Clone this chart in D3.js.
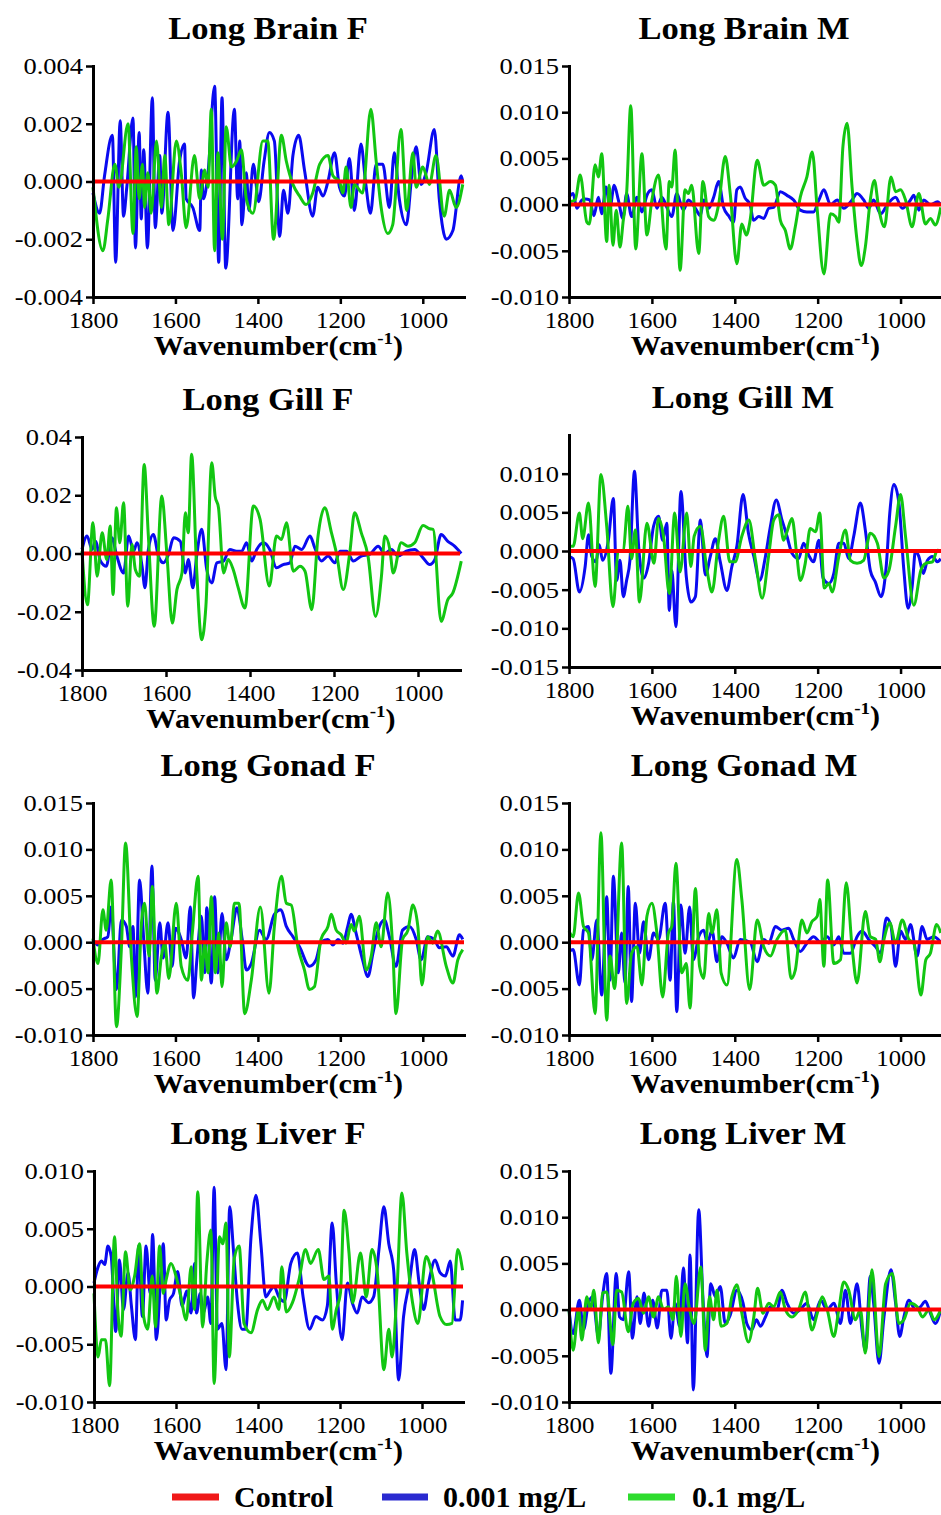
<!DOCTYPE html>
<html>
<head>
<meta charset="utf-8">
<script src="https://cdn.jsdelivr.net/npm/d3@7"></script>
<style>
  body { margin: 0; background: #fff; }
  svg { display: block; }
</style>
</head>
<body>
<svg id="chart" width="941" height="1515"></svg>
<script>
// wavenumber axis, shared by every panel
const xDomain = [1800, 900];
const xTicks = [1800, 1600, 1400, 1200, 1000];
const seriesNames = ['Control', '0.001 mg/L', '0.1 mg/L'];
const controlLine = [[1800, 0], [900, 0]];

const titles = ['Long Brain F', 'Long Brain M', 'Long Gill F', 'Long Gill M',
                'Long Gonad F', 'Long Gonad M', 'Long Liver F', 'Long Liver M'];

const yDomains = [[-0.004, 0.004], [-0.010, 0.015], [-0.04, 0.04], [-0.015, 0.015],
                  [-0.010, 0.015], [-0.010, 0.015], [-0.010, 0.010], [-0.010, 0.015]];

const yTicks = [
  [-0.004, -0.002, 0, 0.002, 0.004],
  [-0.010, -0.005, 0, 0.005, 0.010, 0.015],
  [-0.04, -0.02, 0, 0.02, 0.04],
  [-0.015, -0.010, -0.005, 0, 0.005, 0.010],
  [-0.010, -0.005, 0, 0.005, 0.010, 0.015],
  [-0.010, -0.005, 0, 0.005, 0.010, 0.015],
  [-0.010, -0.005, 0, 0.005, 0.010],
  [-0.010, -0.005, 0, 0.005, 0.010, 0.015]
];
const yDigits = [3, 3, 2, 3, 3, 3, 3, 3];

// [wavenumber, difference]
const brainF_low = [[1800,-0.0004],[1784,-0.0011],[1772,0.0002],[1753,0.0016],[1745,-0.0028],[1734,0.0021],[1726,-0.0012],[1718,-0.0002],[1703,0.0022],[1697,-0.0023],[1688,0.0017],[1683,-0.0013],[1677,0.0011],[1668,-0.0023],[1656,0.0029],[1649,-0.0016],[1638,0.0009],[1633,-0.0011],[1618,0.0024],[1606,-0.0017],[1590,0.0007],[1578,0.0013],[1574,-0.0006],[1558,-0.0009],[1541,-0.0017],[1537,0.0004],[1532,-0.0006],[1521,0.0003],[1505,0.0033],[1495,-0.0028],[1487,0.0029],[1478,-0.0030],[1457,0.0025],[1449,-0.0006],[1444,0.0014],[1439,-0.0015],[1428,0.0003],[1422,-0.0010],[1411,0.0006],[1398,-0.0007],[1385,0.0007],[1372,0.0017],[1360,0.0014],[1347,-0.0019],[1338,-0.0003],[1327,-0.0011],[1315,0.0009],[1301,0.0016],[1287,0.0004],[1267,-0.0012],[1255,-0.0002],[1242,-0.0005],[1230,0.0000],[1214,0.0010],[1202,-0.0002],[1190,-0.0005],[1178,0.0008],[1166,-0.0010],[1150,0.0013],[1139,0.0000],[1127,-0.0011],[1113,0.0006],[1097,0.0006],[1081,-0.0009],[1069,0.0010],[1057,-0.0006],[1040,-0.0015],[1026,0.0003],[1016,0.0012],[1004,-0.0001],[992,0.0003],[972,0.0018],[960,-0.0006],[943,-0.0020],[927,-0.0017],[907,0.0002],[903,0.0000]];
const brainF_high = [[1800,-0.0002],[1776,-0.0024],[1764,-0.0013],[1747,0.0006],[1737,-0.0002],[1715,0.0020],[1703,-0.0018],[1695,0.0012],[1688,-0.0006],[1680,0.0006],[1675,-0.0009],[1667,0.0003],[1659,-0.0011],[1646,0.0014],[1634,-0.0009],[1626,0.0009],[1616,-0.0015],[1598,0.0014],[1586,0.0003],[1574,-0.0016],[1554,0.0009],[1541,-0.0006],[1529,0.0004],[1521,-0.0002],[1513,0.0025],[1505,-0.0024],[1497,0.0010],[1486,-0.0020],[1477,0.0019],[1464,0.0005],[1452,0.0007],[1440,0.0011],[1428,-0.0006],[1412,-0.0011],[1388,0.0014],[1376,0.0014],[1362,-0.0020],[1343,0.0016],[1331,0.0007],[1315,-0.0001],[1299,-0.0005],[1283,-0.0008],[1267,-0.0004],[1250,0.0006],[1230,0.0009],[1218,0.0002],[1202,0.0000],[1194,-0.0004],[1186,0.0005],[1174,-0.0009],[1166,-0.0001],[1146,-0.0004],[1126,0.0025],[1113,0.0007],[1101,-0.0009],[1085,-0.0018],[1073,-0.0015],[1053,0.0018],[1039,-0.0010],[1024,0.0010],[1016,-0.0002],[1000,0.0005],[984,-0.0001],[968,0.0009],[948,-0.0012],[935,-0.0003],[919,-0.0009],[903,-0.0001]];

const brainM_low = [[1800,0.0008],[1790,0.0012],[1781,-0.0004],[1769,0.0005],[1761,0.0006],[1750,0.0005],[1740,-0.0012],[1729,0.0008],[1721,-0.0010],[1711,0.0019],[1701,-0.0003],[1691,0.0021],[1681,0.0005],[1670,-0.0015],[1661,0.0012],[1649,-0.0013],[1636,0.0008],[1624,-0.0008],[1612,0.0010],[1600,0.0016],[1588,-0.0004],[1576,0.0008],[1564,-0.0003],[1552,-0.0013],[1540,0.0012],[1524,-0.0006],[1512,0.0005],[1495,-0.0004],[1483,-0.0012],[1475,0.0005],[1463,-0.0004],[1451,0.0008],[1439,0.0025],[1427,-0.0003],[1415,-0.0012],[1403,-0.0019],[1395,0.0016],[1387,0.0019],[1375,0.0007],[1363,0.0000],[1355,-0.0017],[1342,-0.0013],[1330,-0.0015],[1318,-0.0004],[1306,-0.0003],[1290,0.0014],[1274,0.0010],[1258,0.0005],[1242,-0.0006],[1226,-0.0008],[1210,-0.0008],[1197,0.0005],[1185,0.0016],[1169,0.0000],[1153,0.0005],[1137,-0.0004],[1117,0.0005],[1105,0.0012],[1089,0.0005],[1077,-0.0004],[1065,0.0005],[1048,-0.0010],[1032,0.0000],[1012,0.0008],[996,-0.0004],[976,0.0005],[968,0.0010],[956,-0.0006],[944,0.0005],[928,0.0000],[911,0.0003],[903,0.0000]];
const brainM_high = [[1800,0.0003],[1785,0.0005],[1773,0.0032],[1757,-0.0019],[1751,-0.0021],[1737,0.0043],[1729,0.0030],[1721,0.0055],[1709,-0.0040],[1703,0.0021],[1694,-0.0044],[1686,-0.0006],[1677,-0.0046],[1669,-0.0017],[1661,0.0012],[1651,0.0107],[1639,-0.0048],[1624,0.0055],[1612,-0.0033],[1600,0.0005],[1584,0.0032],[1566,-0.0048],[1558,0.0025],[1552,0.0019],[1544,0.0059],[1532,-0.0071],[1520,0.0016],[1512,0.0012],[1504,0.0021],[1487,-0.0053],[1477,0.0025],[1463,-0.0013],[1451,-0.0017],[1439,0.0000],[1423,0.0052],[1411,0.0012],[1395,-0.0064],[1383,-0.0021],[1372,-0.0033],[1363,-0.0017],[1346,0.0048],[1330,0.0021],[1314,0.0025],[1302,0.0021],[1290,-0.0017],[1278,-0.0028],[1266,-0.0048],[1254,-0.0024],[1242,0.0008],[1226,0.0030],[1213,0.0057],[1201,-0.0006],[1185,-0.0075],[1169,-0.0010],[1157,-0.0013],[1149,-0.0019],[1139,0.0063],[1129,0.0088],[1117,0.0019],[1105,-0.0039],[1095,-0.0066],[1085,-0.0046],[1073,0.0005],[1063,0.0026],[1053,-0.0003],[1039,-0.0024],[1023,0.0030],[1012,0.0014],[1000,0.0016],[988,0.0005],[972,-0.0024],[956,0.0012],[940,-0.0021],[928,-0.0015],[916,-0.0022],[903,-0.0003]];

const gillF_low = [[1800,0.0014],[1788,0.0060],[1776,0.0014],[1768,0.0042],[1756,-0.0026],[1742,-0.0044],[1729,0.0054],[1717,-0.0009],[1701,-0.0067],[1689,0.0060],[1677,0.0008],[1669,0.0037],[1657,-0.0044],[1650,-0.0118],[1642,0.0014],[1630,0.0065],[1618,-0.0009],[1606,-0.0032],[1594,-0.0003],[1582,0.0054],[1566,0.0042],[1554,-0.0067],[1547,-0.0021],[1536,-0.0118],[1527,-0.0009],[1515,0.0083],[1503,-0.0055],[1491,-0.0101],[1479,-0.0032],[1463,-0.0026],[1448,0.0014],[1432,0.0008],[1420,0.0008],[1408,0.0037],[1396,-0.0026],[1384,0.0014],[1368,0.0037],[1353,0.0014],[1337,-0.0049],[1321,-0.0038],[1305,-0.0032],[1293,0.0025],[1277,0.0014],[1257,0.0060],[1246,0.0020],[1230,-0.0026],[1214,-0.0009],[1198,-0.0032],[1186,0.0008],[1170,0.0008],[1154,-0.0026],[1135,-0.0009],[1115,-0.0003],[1095,0.0025],[1079,0.0000],[1063,0.0014],[1048,-0.0009],[1028,0.0008],[1008,0.0014],[988,-0.0015],[972,-0.0038],[960,-0.0021],[945,0.0065],[929,0.0042],[913,0.0025],[897,0.0000]];
const gillF_high = [[1800,0.0008],[1787,-0.0176],[1774,0.0106],[1764,-0.0078],[1752,0.0071],[1741,-0.0021],[1733,0.0094],[1726,-0.0141],[1718,0.0157],[1710,0.0037],[1701,0.0174],[1691,-0.0181],[1681,0.0031],[1673,-0.0055],[1663,-0.0078],[1652,0.0306],[1642,0.0060],[1628,-0.0250],[1610,0.0197],[1598,0.0000],[1585,-0.0239],[1574,-0.0124],[1562,-0.0067],[1554,0.0140],[1547,0.0071],[1539,0.0341],[1527,-0.0055],[1515,-0.0296],[1505,-0.0181],[1491,0.0312],[1483,0.0197],[1475,0.0157],[1463,-0.0067],[1452,-0.0021],[1440,-0.0055],[1428,-0.0118],[1412,-0.0187],[1392,0.0163],[1376,0.0117],[1354,-0.0112],[1337,0.0060],[1325,0.0048],[1313,0.0106],[1297,-0.0061],[1281,-0.0044],[1269,-0.0061],[1253,-0.0193],[1238,0.0060],[1222,0.0157],[1206,0.0071],[1194,0.0000],[1178,-0.0124],[1162,0.0008],[1151,0.0140],[1135,0.0071],[1119,-0.0009],[1101,-0.0216],[1087,-0.0078],[1079,0.0060],[1067,0.0014],[1059,-0.0067],[1040,0.0037],[1024,0.0025],[1008,0.0037],[988,0.0096],[972,0.0085],[964,0.0083],[945,-0.0233],[929,-0.0158],[917,-0.0135],[897,-0.0026]];

const gillM_low = [[1800,-0.0007],[1790,-0.0010],[1775,-0.0053],[1761,-0.0020],[1753,0.0021],[1745,-0.0007],[1735,-0.0014],[1727,0.0008],[1719,-0.0012],[1705,0.0014],[1693,0.0068],[1685,-0.0038],[1677,-0.0012],[1669,-0.0059],[1661,-0.0038],[1653,-0.0012],[1642,0.0103],[1632,0.0006],[1620,-0.0035],[1608,-0.0016],[1596,0.0032],[1584,0.0045],[1574,0.0014],[1564,0.0036],[1558,-0.0077],[1552,-0.0025],[1542,-0.0098],[1530,0.0077],[1517,-0.0033],[1506,-0.0066],[1495,-0.0059],[1483,0.0040],[1471,-0.0031],[1459,-0.0007],[1447,0.0016],[1435,-0.0014],[1419,-0.0051],[1407,-0.0020],[1395,0.0006],[1380,0.0073],[1367,0.0023],[1354,-0.0007],[1340,-0.0038],[1326,-0.0007],[1314,0.0032],[1300,0.0066],[1286,0.0040],[1274,0.0019],[1262,-0.0003],[1246,-0.0010],[1234,0.0010],[1222,-0.0005],[1210,-0.0014],[1197,0.0014],[1187,-0.0035],[1173,-0.0042],[1161,-0.0029],[1149,0.0010],[1137,0.0010],[1125,-0.0010],[1113,0.0019],[1097,0.0062],[1085,0.0027],[1073,-0.0025],[1061,-0.0040],[1047,-0.0059],[1034,-0.0016],[1026,0.0049],[1016,0.0086],[1004,0.0062],[992,-0.0025],[982,-0.0074],[972,-0.0046],[964,0.0000],[956,-0.0007],[945,-0.0029],[935,-0.0012],[923,-0.0007],[911,-0.0014],[903,-0.0010]];
const gillM_high = [[1800,0.0006],[1790,0.0006],[1775,0.0049],[1767,0.0016],[1753,0.0062],[1737,-0.0046],[1723,0.0099],[1709,0.0032],[1694,-0.0072],[1681,-0.0001],[1669,0.0001],[1658,0.0058],[1649,-0.0010],[1640,0.0027],[1630,-0.0066],[1612,0.0036],[1595,-0.0016],[1584,0.0042],[1572,0.0019],[1558,-0.0055],[1545,0.0049],[1532,-0.0027],[1516,0.0049],[1506,-0.0020],[1498,0.0019],[1483,0.0032],[1467,-0.0025],[1455,-0.0053],[1439,0.0014],[1427,0.0045],[1412,-0.0014],[1399,-0.0014],[1383,0.0019],[1366,0.0040],[1350,-0.0012],[1334,-0.0061],[1318,-0.0005],[1306,0.0040],[1294,0.0047],[1282,0.0014],[1274,0.0025],[1262,0.0042],[1250,-0.0007],[1242,-0.0038],[1230,-0.0016],[1218,0.0029],[1205,0.0025],[1195,0.0049],[1184,-0.0048],[1173,-0.0042],[1165,-0.0053],[1149,-0.0007],[1133,0.0027],[1121,-0.0012],[1105,-0.0016],[1089,-0.0012],[1073,0.0023],[1056,0.0010],[1040,-0.0035],[1028,-0.0025],[1012,0.0032],[1000,0.0073],[988,0.0019],[968,-0.0070],[951,-0.0025],[939,-0.0016],[923,-0.0014],[911,0.0001],[903,-0.0001]];

const gonadF_low = [[1800,0.0003],[1788,-0.0003],[1776,0.0003],[1764,0.0006],[1756,0.0038],[1743,-0.0051],[1731,0.0024],[1719,0.0017],[1711,-0.0005],[1703,0.0017],[1697,-0.0059],[1687,0.0067],[1677,0.0003],[1667,-0.0055],[1657,0.0082],[1649,-0.0041],[1638,0.0021],[1630,-0.0017],[1618,0.0021],[1608,-0.0026],[1600,0.0015],[1586,0.0003],[1574,-0.0017],[1564,0.0038],[1556,-0.0060],[1548,-0.0019],[1537,0.0028],[1529,-0.0033],[1524,0.0037],[1513,-0.0044],[1505,0.0049],[1497,-0.0033],[1487,0.0031],[1477,-0.0019],[1465,0.0003],[1451,0.0037],[1438,0.0003],[1428,-0.0030],[1416,-0.0023],[1396,0.0013],[1380,0.0003],[1360,0.0030],[1344,0.0035],[1331,0.0017],[1315,0.0006],[1299,-0.0005],[1275,-0.0026],[1259,-0.0019],[1247,0.0000],[1230,0.0003],[1218,-0.0003],[1206,0.0003],[1194,-0.0001],[1182,0.0017],[1174,0.0030],[1162,0.0010],[1146,-0.0019],[1133,-0.0037],[1121,-0.0012],[1109,0.0012],[1093,0.0024],[1081,0.0006],[1065,-0.0026],[1049,0.0013],[1032,0.0017],[1016,0.0003],[1004,-0.0019],[988,0.0006],[972,0.0003],[960,-0.0006],[943,-0.0005],[927,-0.0015],[911,0.0008],[903,0.0003]];
const gonadF_high = [[1800,0.0004],[1788,-0.0023],[1776,0.0035],[1768,0.0013],[1756,0.0067],[1743,-0.0091],[1731,-0.0005],[1721,0.0107],[1707,-0.0015],[1693,-0.0080],[1683,0.0017],[1675,0.0042],[1664,-0.0015],[1656,0.0060],[1645,-0.0055],[1634,-0.0015],[1626,-0.0001],[1616,-0.0039],[1598,0.0042],[1586,-0.0026],[1570,-0.0041],[1559,0.0010],[1545,0.0071],[1537,-0.0041],[1529,-0.0001],[1521,-0.0033],[1513,0.0049],[1503,-0.0033],[1495,0.0010],[1487,-0.0048],[1477,0.0021],[1467,-0.0005],[1457,0.0042],[1446,0.0042],[1432,-0.0077],[1416,-0.0041],[1394,0.0038],[1373,-0.0055],[1360,0.0017],[1343,0.0071],[1331,0.0042],[1319,0.0040],[1303,-0.0005],[1287,-0.0030],[1275,-0.0051],[1263,-0.0048],[1247,0.0003],[1230,0.0017],[1222,0.0030],[1210,0.0013],[1198,0.0008],[1186,-0.0001],[1174,0.0019],[1166,0.0012],[1154,0.0028],[1137,-0.0030],[1125,-0.0015],[1113,0.0021],[1101,-0.0005],[1085,0.0053],[1073,-0.0005],[1065,-0.0077],[1049,0.0003],[1036,0.0013],[1024,0.0040],[1012,0.0017],[1002,-0.0046],[988,0.0006],[976,-0.0001],[964,0.0012],[943,-0.0026],[927,-0.0044],[915,-0.0019],[903,-0.0008]];

const gonadM_low = [[1800,-0.0010],[1790,-0.0008],[1775,-0.0046],[1765,0.0013],[1753,0.0017],[1745,-0.0019],[1733,0.0024],[1721,-0.0057],[1709,0.0049],[1701,-0.0041],[1693,0.0071],[1681,-0.0033],[1673,0.0010],[1665,-0.0044],[1657,0.0060],[1649,-0.0064],[1640,0.0042],[1630,-0.0012],[1620,0.0022],[1608,-0.0019],[1596,0.0010],[1584,0.0003],[1568,0.0042],[1556,-0.0041],[1548,0.0044],[1540,-0.0075],[1530,0.0040],[1520,-0.0012],[1509,0.0038],[1500,-0.0019],[1487,0.0006],[1475,0.0013],[1466,-0.0001],[1455,0.0013],[1443,-0.0021],[1431,0.0006],[1419,-0.0001],[1403,-0.0017],[1387,0.0003],[1363,0.0000],[1346,-0.0021],[1330,0.0003],[1318,-0.0001],[1302,0.0017],[1286,0.0013],[1270,0.0015],[1258,0.0003],[1242,-0.0010],[1226,-0.0001],[1210,0.0006],[1193,0.0000],[1177,0.0006],[1161,-0.0003],[1149,0.0006],[1137,-0.0012],[1121,-0.0012],[1105,0.0006],[1093,0.0012],[1077,0.0003],[1060,-0.0005],[1048,-0.0012],[1034,0.0026],[1023,0.0017],[1012,-0.0026],[1000,0.0012],[988,0.0003],[976,0.0019],[960,-0.0015],[948,0.0017],[936,0.0003],[920,0.0006],[903,0.0000]];
const gonadM_high = [[1800,0.0012],[1790,0.0006],[1777,0.0053],[1765,0.0017],[1753,0.0010],[1737,-0.0077],[1723,0.0118],[1709,-0.0084],[1701,-0.0015],[1690,-0.0050],[1673,0.0107],[1661,-0.0066],[1649,-0.0012],[1636,-0.0005],[1624,-0.0046],[1612,0.0028],[1600,0.0042],[1588,0.0010],[1574,-0.0059],[1560,0.0010],[1552,0.0017],[1542,0.0085],[1528,-0.0033],[1517,-0.0023],[1508,-0.0071],[1495,0.0058],[1485,-0.0026],[1475,-0.0039],[1463,0.0031],[1455,0.0010],[1443,0.0035],[1433,-0.0033],[1419,-0.0046],[1395,0.0089],[1383,0.0046],[1364,-0.0051],[1346,0.0024],[1330,-0.0005],[1314,-0.0015],[1298,0.0003],[1278,0.0013],[1264,-0.0039],[1254,-0.0030],[1238,0.0024],[1226,0.0010],[1214,0.0022],[1201,0.0028],[1195,0.0046],[1185,-0.0026],[1176,0.0067],[1161,-0.0023],[1145,-0.0019],[1131,0.0064],[1117,-0.0005],[1105,-0.0044],[1085,0.0033],[1073,0.0006],[1060,0.0003],[1050,-0.0021],[1040,0.0003],[1026,0.0021],[1012,-0.0001],[996,0.0024],[980,0.0003],[968,-0.0001],[951,-0.0057],[939,-0.0019],[928,-0.0012],[913,0.0019],[903,0.0010]];

const liverF_low = [[1800,0.0003],[1790,0.0017],[1782,0.0022],[1774,0.0019],[1766,0.0035],[1758,0.0026],[1747,-0.0039],[1738,0.0023],[1728,-0.0020],[1717,0.0012],[1709,-0.0016],[1699,-0.0046],[1691,0.0035],[1682,-0.0026],[1673,0.0035],[1663,-0.0006],[1657,0.0045],[1648,-0.0046],[1636,0.0017],[1631,0.0037],[1624,-0.0029],[1616,-0.0012],[1606,-0.0006],[1596,0.0013],[1585,-0.0017],[1574,-0.0004],[1563,-0.0023],[1555,0.0020],[1550,-0.0023],[1541,-0.0006],[1533,-0.0023],[1523,-0.0009],[1515,-0.0032],[1507,0.0086],[1499,-0.0037],[1488,-0.0032],[1478,-0.0072],[1469,0.0069],[1460,0.0032],[1450,-0.0014],[1439,-0.0037],[1430,-0.0037],[1417,0.0043],[1405,0.0079],[1393,0.0037],[1381,-0.0009],[1371,-0.0004],[1361,0.0000],[1349,-0.0009],[1336,-0.0013],[1320,0.0020],[1304,0.0029],[1290,-0.0009],[1274,-0.0037],[1259,-0.0026],[1243,-0.0029],[1231,-0.0017],[1219,0.0055],[1209,0.0003],[1195,-0.0046],[1182,0.0003],[1170,-0.0014],[1158,-0.0023],[1146,-0.0009],[1130,-0.0014],[1118,-0.0009],[1105,0.0032],[1093,0.0069],[1081,0.0037],[1069,0.0014],[1057,-0.0081],[1045,-0.0026],[1031,0.0003],[1018,0.0032],[1007,0.0003],[996,-0.0020],[984,0.0003],[968,0.0023],[956,0.0012],[943,0.0009],[931,0.0022],[919,-0.0029],[907,-0.0029],[901,-0.0012]];
const liverF_high = [[1800,-0.0006],[1790,-0.0061],[1782,-0.0046],[1772,-0.0046],[1762,-0.0086],[1750,0.0043],[1742,-0.0020],[1734,-0.0043],[1723,0.0030],[1712,-0.0003],[1701,0.0009],[1689,0.0037],[1679,-0.0026],[1669,-0.0037],[1658,0.0009],[1650,-0.0035],[1640,0.0035],[1631,-0.0006],[1624,0.0006],[1612,0.0020],[1600,0.0009],[1588,-0.0009],[1575,-0.0029],[1563,0.0017],[1555,-0.0020],[1547,0.0082],[1535,-0.0035],[1525,0.0020],[1515,0.0049],[1507,-0.0084],[1494,0.0043],[1486,0.0037],[1478,0.0055],[1470,-0.0061],[1458,0.0024],[1446,0.0035],[1434,-0.0032],[1417,-0.0040],[1401,-0.0020],[1389,-0.0012],[1377,-0.0020],[1361,-0.0009],[1349,-0.0020],[1342,0.0017],[1331,-0.0022],[1316,-0.0014],[1300,0.0006],[1284,0.0032],[1272,0.0020],[1253,0.0032],[1239,0.0006],[1227,0.0009],[1219,-0.0037],[1209,-0.0020],[1199,-0.0006],[1190,0.0066],[1178,0.0029],[1169,-0.0014],[1150,0.0029],[1136,-0.0009],[1122,0.0032],[1109,0.0012],[1093,-0.0072],[1081,-0.0037],[1073,-0.0061],[1061,-0.0003],[1049,0.0081],[1037,0.0029],[1023,-0.0014],[1010,-0.0032],[990,0.0026],[976,0.0012],[956,-0.0026],[940,-0.0033],[927,-0.0032],[913,0.0032],[901,0.0014]];

const liverM_low = [[1800,0.0000],[1790,-0.0026],[1775,0.0010],[1765,-0.0022],[1753,0.0007],[1743,0.0014],[1729,-0.0029],[1719,0.0014],[1709,0.0039],[1699,-0.0069],[1686,0.0039],[1678,-0.0008],[1669,-0.0011],[1656,0.0041],[1647,-0.0031],[1636,0.0014],[1628,-0.0015],[1619,0.0018],[1608,-0.0018],[1598,0.0010],[1587,-0.0020],[1576,0.0021],[1564,0.0021],[1554,-0.0031],[1544,0.0007],[1533,-0.0018],[1524,0.0045],[1514,-0.0036],[1508,0.0059],[1500,-0.0087],[1487,0.0108],[1477,0.0014],[1467,-0.0051],[1458,0.0028],[1447,0.0014],[1435,0.0025],[1423,-0.0015],[1411,-0.0006],[1395,0.0021],[1380,0.0007],[1371,-0.0015],[1359,-0.0022],[1348,-0.0011],[1338,-0.0018],[1326,-0.0008],[1314,0.0003],[1298,0.0000],[1286,0.0021],[1274,0.0007],[1258,-0.0004],[1242,0.0000],[1226,0.0007],[1210,-0.0011],[1193,0.0010],[1177,0.0000],[1161,0.0007],[1145,-0.0015],[1133,0.0021],[1121,-0.0015],[1105,0.0028],[1093,-0.0022],[1085,-0.0044],[1073,0.0036],[1065,0.0007],[1052,-0.0058],[1040,-0.0008],[1023,0.0043],[1012,0.0007],[1002,-0.0029],[992,-0.0008],[980,0.0010],[964,0.0000],[952,0.0003],[940,0.0009],[928,-0.0004],[916,-0.0015],[903,0.0000]];
const liverM_high = [[1800,0.0000],[1790,-0.0044],[1777,0.0000],[1769,-0.0033],[1757,0.0014],[1748,0.0000],[1740,0.0021],[1729,-0.0036],[1719,0.0018],[1709,0.0019],[1694,-0.0038],[1685,0.0021],[1673,0.0019],[1657,-0.0024],[1645,0.0007],[1632,0.0012],[1620,-0.0004],[1608,0.0014],[1596,-0.0008],[1584,0.0014],[1572,0.0000],[1560,0.0003],[1549,-0.0011],[1541,0.0036],[1530,-0.0029],[1520,0.0028],[1509,0.0000],[1498,-0.0015],[1482,0.0046],[1471,-0.0044],[1461,0.0014],[1451,-0.0011],[1443,0.0021],[1433,-0.0018],[1419,-0.0015],[1407,0.0014],[1395,0.0027],[1383,-0.0004],[1367,-0.0035],[1354,-0.0008],[1345,0.0023],[1332,-0.0004],[1318,0.0007],[1306,0.0003],[1290,0.0019],[1278,0.0000],[1262,-0.0008],[1246,0.0000],[1230,0.0019],[1214,-0.0022],[1201,-0.0004],[1189,0.0014],[1177,0.0000],[1161,-0.0029],[1149,0.0000],[1137,0.0030],[1125,0.0021],[1109,-0.0011],[1097,0.0000],[1085,-0.0047],[1069,0.0043],[1052,-0.0051],[1036,0.0028],[1020,0.0039],[1004,-0.0015],[992,-0.0011],[976,0.0007],[960,0.0003],[947,-0.0008],[931,0.0000],[919,-0.0011],[903,0.0000]];

const lowSeries = [brainF_low, brainM_low, gillF_low, gillM_low, gonadF_low, gonadM_low, liverF_low, liverM_low];
const highSeries = [brainF_high, brainM_high, gillF_high, gillM_high, gonadF_high, gonadM_high, liverF_high, liverM_high];

(function () {
    'use strict';

    // pixel frame of each panel's axes
    const la = [
        { x0: 93,  x1: 464, yt: 66,   yb: 297,  tx: 268 },
        { x0: 569, x1: 942, yt: 66,   yb: 297,  tx: 744 },
        { x0: 82,  x1: 460, yt: 437,  yb: 670,  tx: 268 },
        { x0: 569, x1: 942, yt: 435,  yb: 667,  tx: 743 },
        { x0: 93,  x1: 464, yt: 803,  yb: 1035, tx: 268 },
        { x0: 569, x1: 942, yt: 803,  yb: 1035, tx: 744 },
        { x0: 94,  x1: 463, yt: 1171, yb: 1402, tx: 268 },
        { x0: 569, x1: 942, yt: 1171, yb: 1402, tx: 743 }
    ];

    const ff = '"Liberation Serif", "Times New Roman", Times, serif';
    const co = { ctrl: '#ff0000', low: '#0a0af0', high: '#12c612' };

    const sv = d3.select('#chart');
    sv.append('rect').attr('width', 941).attr('height', 1515).attr('fill', '#fff');

    // stretch text horizontally a little, the reference glyphs are wide
    function widen(sel, k) {
        sel.each(function () {
            const w = this.getComputedTextLength();
            this.setAttribute('textLength', w * k);
            this.setAttribute('lengthAdjust', 'spacingAndGlyphs');
        });
    }

    titles.forEach((ti, i) => {
        const lo = la[i];
        const x_sc = d3.scaleLinear().domain(xDomain).range([lo.x0, lo.x1]);
        const y_sc = d3.scaleLinear().domain(yDomains[i]).range([lo.yb, lo.yt]);
        const gr = sv.append('g');

        const li = d3.line()
            .x(d => x_sc(d[0]))
            .y(d => y_sc(d[1]))
            .curve(d3.curveMonotoneX);

        gr.append('path').datum(lowSeries[i])
            .attr('d', li).attr('fill', 'none')
            .attr('stroke', co.low).attr('stroke-width', 3)
            .attr('stroke-linejoin', 'round');

        gr.append('path').datum(highSeries[i])
            .attr('d', li).attr('fill', 'none')
            .attr('stroke', co.high).attr('stroke-width', 3)
            .attr('stroke-linejoin', 'round');

        gr.append('path').datum(controlLine)
            .attr('d', li).attr('fill', 'none')
            .attr('stroke', co.ctrl).attr('stroke-width', 4);

        const dg = yDigits[i];
        const y_ax = d3.axisLeft(y_sc)
            .tickValues(yTicks[i])
            .tickFormat(v => v.toFixed(dg))
            .tickSize(7).tickSizeOuter(0).tickPadding(3);

        const y_g = gr.append('g')
            .attr('transform', `translate(${lo.x0},0)`)
            .call(y_ax)
            .attr('font-family', ff)
            .attr('font-size', 23);
        y_g.select('.domain').attr('stroke', '#000').attr('stroke-width', 3)
            .attr('stroke-linecap', 'square');
        y_g.selectAll('.tick line').attr('stroke', '#000').attr('stroke-width', 2.5);
        y_g.selectAll('.tick text').attr('fill', '#000');
        widen(y_g.selectAll('.tick text'), 1.15);

        const x_ax = d3.axisBottom(x_sc)
            .tickValues(xTicks)
            .tickFormat(d3.format('d'))
            .tickSize(7).tickSizeOuter(0).tickPadding(8);

        const x_g = gr.append('g')
            .attr('transform', `translate(0,${lo.yb})`)
            .call(x_ax)
            .attr('font-family', ff)
            .attr('font-size', 23);
        x_g.select('.domain').attr('stroke', '#000').attr('stroke-width', 3)
            .attr('stroke-linecap', 'square');
        x_g.selectAll('.tick line').attr('stroke', '#000').attr('stroke-width', 2.5);
        x_g.selectAll('.tick text').attr('fill', '#000');
        widen(x_g.selectAll('.tick text'), 1.08);

        // panel title
        gr.append('text')
            .attr('transform', `translate(${lo.tx},${lo.yt - 27}) scale(1.08,1)`)
            .attr('text-anchor', 'middle')
            .attr('font-family', ff)
            .attr('font-size', 32)
            .attr('font-weight', 'bold')
            .text(ti);

        // axis title with superscript
        const xl = gr.append('text')
            .attr('transform', `translate(${(lo.x0 + lo.x1) / 2},${lo.yb + 58}) scale(1.12,1)`)
            .attr('text-anchor', 'middle')
            .attr('font-family', ff)
            .attr('font-size', 27)
            .attr('font-weight', 'bold');
        xl.append('tspan').text('Wavenumber(cm');
        xl.append('tspan').attr('font-size', 17).attr('dy', -11).text('-1');
        xl.append('tspan').attr('dy', 11).text(')');
    });

    // legend
    const le_x = [[172, 219, 234], [382, 428, 443], [628, 675, 692]];
    const le_co = [co.ctrl, '#2a2ad0', '#2edc2e'];
    const le = sv.append('g').attr('class', 'legend');
    seriesNames.forEach((nm, i) => {
        le.append('line')
            .attr('x1', le_x[i][0]).attr('x2', le_x[i][1])
            .attr('y1', 1497).attr('y2', 1497)
            .attr('stroke', i === 0 ? '#f01818' : le_co[i])
            .attr('stroke-width', 7);
        le.append('text')
            .attr('x', le_x[i][2]).attr('y', 1507)
            .attr('font-family', ff)
            .attr('font-size', 30)
            .attr('font-weight', 'bold')
            .text(nm);
    });
})();
</script>
</body>
</html>
